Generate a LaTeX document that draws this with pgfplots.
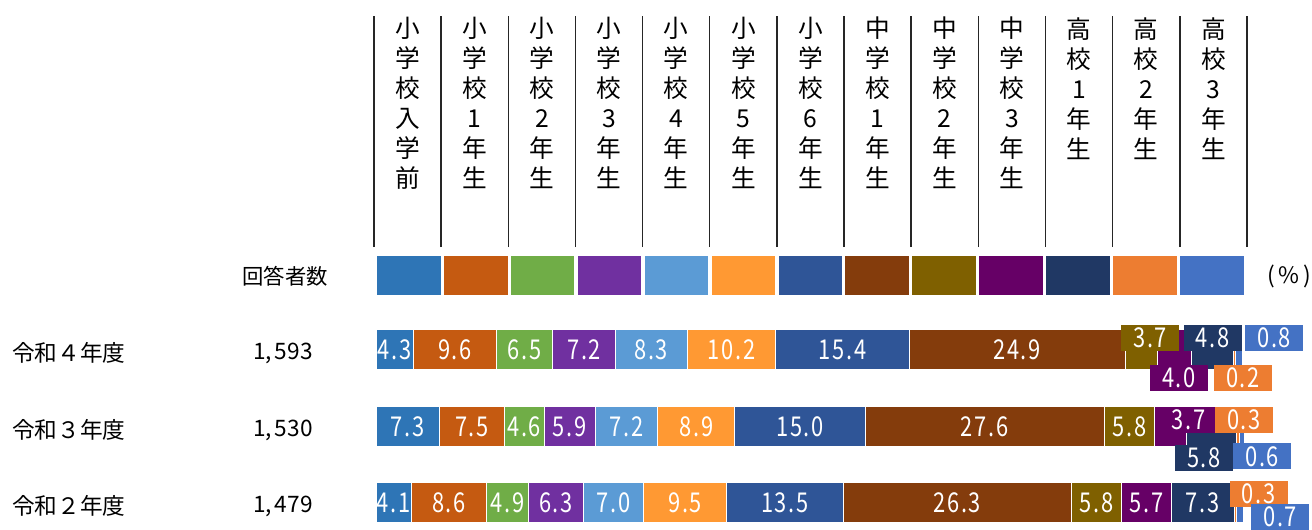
\documentclass[border=0pt]{standalone}
\usepackage{pgfplots}
\pgfplotsset{compat=1.18}
\usepackage{fontspec}
\setmainfont{Noto Sans CJK JP}
\newfontfamily\lblfont[FakeStretch=0.8, LetterSpace=6]{Noto Sans CJK JP}

\definecolor{c1}{HTML}{2E75B6}
\definecolor{c2}{HTML}{C55A11}
\definecolor{c3}{HTML}{70AD47}
\definecolor{c4}{HTML}{7030A0}
\definecolor{c5}{HTML}{5B9BD5}
\definecolor{c6}{HTML}{FF9933}
\definecolor{c7}{HTML}{2F5597}
\definecolor{c8}{HTML}{843C0C}
\definecolor{c9}{HTML}{7F6000}
\definecolor{c10}{HTML}{660066}
\definecolor{c11}{HTML}{203864}
\definecolor{c12}{HTML}{ED7D31}
\definecolor{c13}{HTML}{4472C4}

\pgfplotsset{
  frame/.style={at={(0,0)}, anchor=south west, scale only axis,
    width=984pt, height=396.75pt,
    xmin=-43.37, xmax=107.96, ymin=-0.34, ymax=6.575,
    hide axis, clip=false},
  swatch/.style={legend image code/.code={\draw[##1, draw=white, line width=0.75pt] (0pt,-15pt) rectangle (48.44pt,15pt);}},
  lbl/.style={draw=none, mark=none, nodes near coords, point meta=explicit symbolic,
    nodes near coords align=center,
    every node near coord/.append style={font=\lblfont\fontsize{20.5}{20.5}\selectfont,
      text=white, anchor=center, inner sep=0pt}},
  box/.style={lbl, every node near coord/.append style={fill=#1, minimum width=43.5pt, minimum height=19.5pt}},
}

\begin{document}
\begin{tikzpicture}
\path[use as bounding box] (0,0) rectangle (984pt,396.75pt);

% bars + legend swatches
\begin{axis}[frame, xbar stacked, bar width=30pt,
  legend columns=13,
  legend style={at={(0.2866,0.518)}, anchor=north west, draw=none, fill=none,
    inner sep=0pt, outer sep=0pt, row sep=0pt, column sep=0pt,
    nodes={inner sep=0pt, outer sep=0pt},
    /tikz/every even column/.style={column sep=0pt},
    /tikz/every odd column/.style={column sep=0pt}}]
\addplot[fill=c1, draw=white, line width=0.75pt, swatch] coordinates {(4.1,0) (7.3,1) (4.3,2)};
\addlegendentry{\mbox{}}
\addplot[fill=c2, draw=white, line width=0.75pt, swatch] coordinates {(8.6,0) (7.5,1) (9.6,2)};
\addlegendentry{\mbox{}}
\addplot[fill=c3, draw=white, line width=0.75pt, swatch] coordinates {(4.9,0) (4.6,1) (6.5,2)};
\addlegendentry{\mbox{}}
\addplot[fill=c4, draw=white, line width=0.75pt, swatch] coordinates {(6.3,0) (5.9,1) (7.2,2)};
\addlegendentry{\mbox{}}
\addplot[fill=c5, draw=white, line width=0.75pt, swatch] coordinates {(7.0,0) (7.2,1) (8.3,2)};
\addlegendentry{\mbox{}}
\addplot[fill=c6, draw=white, line width=0.75pt, swatch] coordinates {(9.5,0) (8.9,1) (10.2,2)};
\addlegendentry{\mbox{}}
\addplot[fill=c7, draw=white, line width=0.75pt, swatch] coordinates {(13.5,0) (15.0,1) (15.4,2)};
\addlegendentry{\mbox{}}
\addplot[fill=c8, draw=white, line width=0.75pt, swatch] coordinates {(26.3,0) (27.6,1) (24.9,2)};
\addlegendentry{\mbox{}}
\addplot[fill=c9, draw=white, line width=0.75pt, swatch] coordinates {(5.8,0) (5.8,1) (3.7,2)};
\addlegendentry{\mbox{}}
\addplot[fill=c10, draw=white, line width=0.75pt, swatch] coordinates {(5.7,0) (3.7,1) (4.0,2)};
\addlegendentry{\mbox{}}
\addplot[fill=c11, draw=white, line width=0.75pt, swatch] coordinates {(7.3,0) (5.8,1) (4.8,2)};
\addlegendentry{\mbox{}}
\addplot[fill=c12, draw=white, line width=0.75pt, swatch] coordinates {(0.3,0) (0.3,1) (0.2,2)};
\addlegendentry{\mbox{}}
\addplot[fill=c13, draw=white, line width=0.75pt, swatch] coordinates {(0.7,0) (0.6,1) (0.8,2)};
\addlegendentry{\mbox{}}
\end{axis}

% value labels
\begin{axis}[frame]
\addplot[lbl] coordinates {
  (2.15,2)[4.3] (9.1,2)[9.6] (17.15,2)[6.5] (24.0,2)[7.2] (31.75,2)[8.3]
  (41.0,2)[10.2] (53.8,2)[15.4] (73.95,2)[24.9]
  (3.65,1)[7.3] (11.05,1)[7.5] (17.1,1)[4.6] (22.35,1)[5.9] (28.9,1)[7.2]
  (36.95,1)[8.9] (48.9,1)[15.0] (70.2,1)[27.6] (86.9,1)[5.8]
  (2.05,0)[4.1] (8.4,0)[8.6] (15.15,0)[4.9] (20.75,0)[6.3] (27.4,0)[7.0]
  (35.65,0)[9.5] (47.15,0)[13.5] (67.05,0)[26.3] (83.1,0)[5.8] (88.85,0)[5.7]
  (95.35,0)[7.3]
};
\addplot[box=c9] coordinates {(89.3,2.157)[3.7]};
\addplot[box=c10] coordinates {(92.6,1.634)[4.0] (93.7,1.085)[3.7]};
\addplot[box=c11] coordinates {(96.5,2.157)[4.8] (95.5,0.588)[5.8]};
\addplot[box=c12] coordinates {(100.0,1.634)[0.2] (100.1,1.085)[0.3] (101.8,0.118)[0.3]};
\addplot[box=c13] coordinates {(103.6,2.157)[0.8] (102.2,0.61)[0.6] (104.3,-0.18)[0.7]};
\end{axis}

% column headers
\foreach \i in {0,...,13}
  \draw[line width=1.1pt, black!85] ({280.5pt+50.3625pt*\i},211.5pt) -- ({280.5pt+50.3625pt*\i},384.75pt);
\foreach \t [count=\i from 0] in {
  {小\\学\\校\\入\\学\\前}, {小\\学\\校\\1\\年\\生}, {小\\学\\校\\2\\年\\生},
  {小\\学\\校\\3\\年\\生}, {小\\学\\校\\4\\年\\生}, {小\\学\\校\\5\\年\\生},
  {小\\学\\校\\6\\年\\生}, {中\\学\\校\\1\\年\\生}, {中\\学\\校\\2\\年\\生},
  {中\\学\\校\\3\\年\\生}, {高\\校\\1\\年\\生}, {高\\校\\2\\年\\生},
  {高\\校\\3\\年\\生}}
  \node[anchor=north, inner sep=0pt, align=center, font=\fontsize{18.5}{22.5}\selectfont]
    at ({280.5pt+50.3625pt*(\i+0.5)},384pt) {\t};

% left side texts
\begin{scope}[every node/.style={font=\fontsize{17}{17}\selectfont, inner sep=0pt}]
\node[font=\fontsize{16}{16}\selectfont] at (213.75pt,189.75pt) {回答者数};
\node at (966.75pt,189.75pt) {(\,\%\,)};
\node[anchor=west] at (9pt,132pt) {令和４年度};
\node[anchor=west] at (9pt,74.25pt) {令和３年度};
\node[anchor=west] at (9pt,17.25pt) {令和２年度};
\node at (212.25pt,132pt) {1,\hspace{2pt}593};
\node at (212.25pt,74.25pt) {1,\hspace{2pt}530};
\node at (212.25pt,17.25pt) {1,\hspace{2pt}479};
\end{scope}
\end{tikzpicture}
\end{document}
